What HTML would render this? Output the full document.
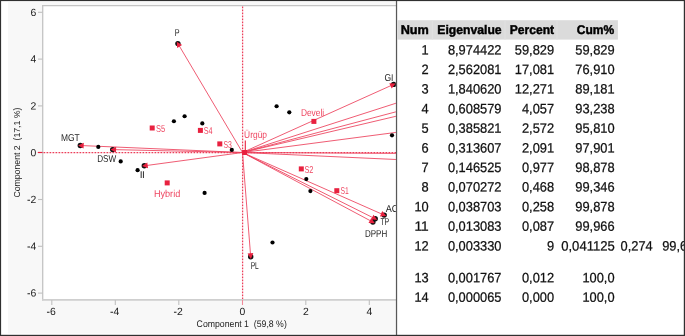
<!DOCTYPE html><html><head><meta charset="utf-8"><title>PCA</title><style>html,body{margin:0;padding:0;background:#fff;overflow:hidden}svg{display:block}text{font-family:"Liberation Sans",sans-serif}</style></head><body>
<svg width="685" height="336" viewBox="0 0 685 336">
<rect x="0" y="0" width="685" height="336" fill="#fff"/>
<rect x="8" y="2" width="388" height="331.6" fill="#f8f8f8"/>
<rect x="42.7" y="5.6" width="354" height="294.3" fill="#fff"/>
<g stroke="#c4c4c4" stroke-width="1.3" fill="none"><line x1="42.7" y1="5" x2="42.7" y2="300.6"/><line x1="42" y1="5.6" x2="396" y2="5.6"/></g>
<line x1="42" y1="299.9" x2="396" y2="299.9" stroke="#cfcfcf" stroke-width="1.8"/>
<line x1="38" y1="12.3" x2="42.7" y2="12.3" stroke="#c0c0c0" stroke-width="1.1"/>
<line x1="38" y1="59.1" x2="42.7" y2="59.1" stroke="#c0c0c0" stroke-width="1.1"/>
<line x1="38" y1="105.9" x2="42.7" y2="105.9" stroke="#c0c0c0" stroke-width="1.1"/>
<line x1="38" y1="199.5" x2="42.7" y2="199.5" stroke="#c0c0c0" stroke-width="1.1"/>
<line x1="38" y1="246.3" x2="42.7" y2="246.3" stroke="#c0c0c0" stroke-width="1.1"/>
<line x1="38" y1="293.1" x2="42.7" y2="293.1" stroke="#c0c0c0" stroke-width="1.1"/>
<line x1="51.8" y1="300" x2="51.8" y2="305" stroke="#c0c0c0" stroke-width="1.1"/>
<line x1="115.3" y1="300" x2="115.3" y2="305" stroke="#c0c0c0" stroke-width="1.1"/>
<line x1="178.8" y1="300" x2="178.8" y2="305" stroke="#c0c0c0" stroke-width="1.1"/>
<line x1="305.8" y1="300" x2="305.8" y2="305" stroke="#c0c0c0" stroke-width="1.1"/>
<line x1="369.3" y1="300" x2="369.3" y2="305" stroke="#c0c0c0" stroke-width="1.1"/>
<line x1="37.8" y1="152.5" x2="42.5" y2="152.5" stroke="#e8213f" stroke-width="1.2"/>
<line x1="242.5" y1="300" x2="242.5" y2="305" stroke="#f08a9a" stroke-width="1.1"/>
<line x1="43.5" y1="152.5" x2="396" y2="152.5" stroke="#ec3f5a" stroke-width="1.25" stroke-dasharray="1.75 1.25"/>
<line x1="242.6" y1="6.5" x2="242.6" y2="299" stroke="#ec3f5a" stroke-width="1.25" stroke-dasharray="1.75 1.25"/>
<text x="36.3" y="15.9" transform="rotate(0.03 36.3 15.9)" font-size="10.4" fill="#222" text-anchor="end">6</text>
<text x="36.3" y="62.6" transform="rotate(0.03 36.3 62.6)" font-size="10.4" fill="#222" text-anchor="end">4</text>
<text x="36.3" y="109.4" transform="rotate(0.03 36.3 109.4)" font-size="10.4" fill="#222" text-anchor="end">2</text>
<text x="36.3" y="156.2" transform="rotate(0.03 36.3 156.2)" font-size="10.4" fill="#222" text-anchor="end">0</text>
<text x="36.3" y="203.1" transform="rotate(0.03 36.3 203.1)" font-size="10.4" fill="#222" text-anchor="end">-2</text>
<text x="36.3" y="249.8" transform="rotate(0.03 36.3 249.8)" font-size="10.4" fill="#222" text-anchor="end">-4</text>
<text x="36.3" y="296.6" transform="rotate(0.03 36.3 296.6)" font-size="10.4" fill="#222" text-anchor="end">-6</text>
<text x="51.1" y="314.9" transform="rotate(0.03 51.1 314.9)" font-size="10.4" fill="#222" text-anchor="middle">-6</text>
<text x="114.6" y="314.9" transform="rotate(0.03 114.6 314.9)" font-size="10.4" fill="#222" text-anchor="middle">-4</text>
<text x="178.1" y="314.9" transform="rotate(0.03 178.1 314.9)" font-size="10.4" fill="#222" text-anchor="middle">-2</text>
<text x="242.3" y="314.9" transform="rotate(0.03 242.3 314.9)" font-size="10.4" fill="#222" text-anchor="middle">0</text>
<text x="305.8" y="314.9" transform="rotate(0.03 305.8 314.9)" font-size="10.4" fill="#222" text-anchor="middle">2</text>
<text x="369.3" y="314.9" transform="rotate(0.03 369.3 314.9)" font-size="10.4" fill="#222" text-anchor="middle">4</text>
<text x="196.6" y="326.9" transform="rotate(0.03 196.6 326.9)" font-size="9.5" fill="#222" textLength="90.2" lengthAdjust="spacingAndGlyphs" xml:space="preserve">Component 1&#160; (59,8 %)</text>
<text transform="translate(20.0,197.6) rotate(-90)" font-size="9.5" fill="#222" textLength="90" lengthAdjust="spacingAndGlyphs" xml:space="preserve">Component 2&#160; (17,1 %)</text>
<defs><clipPath id="c"><rect x="43.4" y="6.3" width="352.5" height="292.8"/></clipPath></defs>
<g clip-path="url(#c)">
<g stroke="#ec3f5a" stroke-width="0.85" fill="none">
<line x1="242.5" y1="152.5" x2="80.3" y2="145.5"/>
<line x1="242.5" y1="152.5" x2="112.7" y2="149.6"/>
<line x1="242.5" y1="152.5" x2="144.3" y2="165.8"/>
<line x1="242.5" y1="152.5" x2="177.9" y2="43.6"/>
<line x1="242.5" y1="152.5" x2="393.6" y2="84.4"/>
<line x1="242.5" y1="152.5" x2="384.2" y2="215.1"/>
<line x1="242.5" y1="152.5" x2="375.2" y2="218.8"/>
<line x1="242.5" y1="152.5" x2="372.9" y2="222.1"/>
<line x1="242.5" y1="152.5" x2="250.7" y2="256.7"/>
<line x1="242.5" y1="152.5" x2="400" y2="101.92"/>
<line x1="242.5" y1="152.5" x2="400" y2="110.74"/>
<line x1="242.5" y1="152.5" x2="400" y2="115.31"/>
<line x1="242.5" y1="152.5" x2="400" y2="131.88"/>
<line x1="242.5" y1="152.5" x2="400" y2="153.42"/>
<line x1="242.5" y1="152.5" x2="400" y2="159.68"/>
</g>
<circle cx="98.3" cy="146.9" r="2.1" fill="#000"/>
<circle cx="120.7" cy="161.4" r="2.1" fill="#000"/>
<circle cx="137.6" cy="170.2" r="2.1" fill="#000"/>
<circle cx="173.9" cy="121.25" r="2.1" fill="#000"/>
<circle cx="184.6" cy="116.25" r="2.1" fill="#000"/>
<circle cx="202.3" cy="123.4" r="2.1" fill="#000"/>
<circle cx="231.8" cy="149.9" r="2.1" fill="#000"/>
<circle cx="204.6" cy="192.9" r="2.1" fill="#000"/>
<circle cx="276.6" cy="106.25" r="2.1" fill="#000"/>
<circle cx="289.3" cy="112.3" r="2.1" fill="#000"/>
<circle cx="392" cy="135.3" r="2.1" fill="#000"/>
<circle cx="306.3" cy="179.1" r="2.1" fill="#000"/>
<circle cx="310.4" cy="191.1" r="2.1" fill="#000"/>
<circle cx="272.5" cy="242.5" r="2.1" fill="#000"/>
<circle cx="80.3" cy="145.5" r="2.7" fill="#111"/>
<polygon points="78.10,145.41 83.82,142.75 83.57,148.54" fill="#e8213f"/>
<circle cx="112.7" cy="149.6" r="2.7" fill="#111"/>
<polygon points="110.50,149.55 116.16,146.78 116.03,152.58" fill="#e8213f"/>
<circle cx="144.3" cy="165.8" r="2.7" fill="#111"/>
<polygon points="142.12,166.10 147.28,162.47 148.06,168.22" fill="#e8213f"/>
<circle cx="177.9" cy="43.6" r="2.7" fill="#111"/>
<polygon points="176.78,41.71 182.13,45.04 177.14,48.00" fill="#e8213f"/>
<circle cx="393.6" cy="84.4" r="2.7" fill="#111"/>
<polygon points="395.61,83.50 391.69,88.44 389.31,83.15" fill="#e8213f"/>
<circle cx="384.2" cy="215.1" r="2.7" fill="#111"/>
<polygon points="386.21,215.99 379.92,216.38 382.26,211.07" fill="#e8213f"/>
<circle cx="375.2" cy="218.8" r="2.7" fill="#111"/>
<polygon points="377.17,219.78 370.86,219.87 373.45,214.69" fill="#e8213f"/>
<circle cx="372.9" cy="222.1" r="2.7" fill="#111"/>
<polygon points="374.84,223.14 368.53,223.06 371.27,217.94" fill="#e8213f"/>
<circle cx="250.7" cy="256.7" r="2.7" fill="#111"/>
<polygon points="250.87,258.89 247.54,253.54 253.32,253.08" fill="#e8213f"/>
<rect x="149.7" y="125.5" width="5" height="5" fill="#e8213f"/>
<rect x="197.9" y="127.9" width="5" height="5" fill="#e8213f"/>
<rect x="217.3" y="141.4" width="5" height="5" fill="#e8213f"/>
<rect x="311.4" y="118.9" width="5" height="5" fill="#e8213f"/>
<rect x="298.8" y="166.4" width="5" height="5" fill="#e8213f"/>
<rect x="334.3" y="188.2" width="5" height="5" fill="#e8213f"/>
<rect x="164.7" y="180.4" width="5" height="5" fill="#e8213f"/>
<rect x="242.1" y="150.0" width="5" height="5" fill="#e8213f"/>
<line x1="245.3" y1="140.6" x2="245.3" y2="151" stroke="#e8213f" stroke-width="1.1"/>
</g>
<g clip-path="url(#c)">
<text x="60.95" y="141.0" transform="rotate(0.03 60.95 141.0)" font-size="10" fill="#222" textLength="18.7" lengthAdjust="spacingAndGlyphs">MGT</text>
<text x="97.2" y="161.6" transform="rotate(0.03 97.2 161.6)" font-size="10" fill="#222" textLength="19.0" lengthAdjust="spacingAndGlyphs">DSW</text>
<text x="139.8" y="178.0" transform="rotate(0.03 139.8 178)" font-size="10" fill="#222">I<tspan dx="-0.55">I</tspan></text>
<text x="174.7" y="35.9" transform="rotate(0.03 174.7 35.9)" font-size="10" fill="#222" textLength="4.8" lengthAdjust="spacingAndGlyphs">P</text>
<text x="384.4" y="81.1" transform="rotate(0.03 384.4 81.1)" font-size="10" fill="#222" textLength="9.0" lengthAdjust="spacingAndGlyphs">GI</text>
<text x="385.8" y="212.1" transform="rotate(0.03 385.8 212.1)" font-size="10" fill="#222" textLength="12.6" lengthAdjust="spacingAndGlyphs">AC</text>
<text x="380.4" y="225.2" transform="rotate(0.03 380.4 225.2)" font-size="10" fill="#222" textLength="8.8" lengthAdjust="spacingAndGlyphs">TP</text>
<text x="365.0" y="236.6" transform="rotate(0.03 365.0 236.6)" font-size="10" fill="#222" textLength="22.2" lengthAdjust="spacingAndGlyphs">DPPH</text>
<text x="250.7" y="269.4" transform="rotate(0.03 250.7 269.4)" font-size="10" fill="#222" textLength="8.1" lengthAdjust="spacingAndGlyphs">PL</text>
<text x="155.9" y="131.7" transform="rotate(0.03 155.9 131.7)" font-size="10" fill="#ee4560" textLength="9.2" lengthAdjust="spacingAndGlyphs">S5</text>
<text x="203.8" y="134.0" transform="rotate(0.03 203.8 134.0)" font-size="10" fill="#ee4560" textLength="8.8" lengthAdjust="spacingAndGlyphs">S4</text>
<text x="223.5" y="147.6" transform="rotate(0.03 223.5 147.6)" font-size="10" fill="#ee4560" textLength="8.4" lengthAdjust="spacingAndGlyphs">S3</text>
<text x="304.4" y="172.8" transform="rotate(0.03 304.4 172.8)" font-size="10" fill="#ee4560" textLength="9.0" lengthAdjust="spacingAndGlyphs">S2</text>
<text x="340.4" y="194.0" transform="rotate(0.03 340.4 194.0)" font-size="10" fill="#ee4560" textLength="8.3" lengthAdjust="spacingAndGlyphs">S1</text>
<text x="300.95" y="115.6" transform="rotate(0.03 300.95 115.6)" font-size="10" fill="#ee4560" textLength="23.2" lengthAdjust="spacingAndGlyphs">Develi</text>
<text x="153.95" y="196.7" transform="rotate(0.03 153.95 196.7)" font-size="10" fill="#ee4560" textLength="26.3" lengthAdjust="spacingAndGlyphs">Hybrid</text>
<text x="244.1" y="137.75" transform="rotate(0.03 244.1 137.75)" font-size="10" fill="#ee4560" textLength="22.9" lengthAdjust="spacingAndGlyphs">Ürgüp</text>
</g>
<rect x="396.5" y="1" width="288" height="334" fill="#fff"/>
<rect x="395.9" y="0" width="1.25" height="336" fill="#585858"/>
<rect x="397.2" y="20.2" width="220.7" height="19.4" fill="#dbdbdb"/>
<line x1="432.3" y1="20.2" x2="432.3" y2="39.6" stroke="#e1e1e1" stroke-width="1"/>
<line x1="505" y1="20.2" x2="505" y2="39.6" stroke="#e1e1e1" stroke-width="1"/>
<line x1="557" y1="20.2" x2="557" y2="39.6" stroke="#e1e1e1" stroke-width="1"/>
<text x="400.7" y="34" transform="rotate(0.03 400.7 34)" font-size="12.6" fill="#000" textLength="28.2" lengthAdjust="spacingAndGlyphs" font-weight="bold" stroke="#000" stroke-width="0.45">Num</text>
<text x="437.3" y="34" transform="rotate(0.03 437.3 34)" font-size="12.6" fill="#000" textLength="64.3" lengthAdjust="spacingAndGlyphs" font-weight="bold" stroke="#000" stroke-width="0.45">Eigenvalue</text>
<text x="509.8" y="34" transform="rotate(0.03 509.8 34)" font-size="12.6" fill="#000" textLength="44.3" lengthAdjust="spacingAndGlyphs" font-weight="bold" stroke="#000" stroke-width="0.45">Percent</text>
<text x="576.8" y="34" transform="rotate(0.03 576.8 34)" font-size="12.6" fill="#000" textLength="37.5" lengthAdjust="spacingAndGlyphs" font-weight="bold" stroke="#000" stroke-width="0.45">Cum%</text>
<text x="421.56" y="54.4" transform="rotate(0.03 421.56 54.4)" font-size="13.6" fill="#111" stroke="#111" stroke-width="0.25" textLength="7.14" lengthAdjust="spacingAndGlyphs">1</text>
<text x="447.92" y="54.4" transform="rotate(0.03 447.92 54.4)" font-size="13.6" fill="#111" stroke="#111" stroke-width="0.25" textLength="53.58" lengthAdjust="spacingAndGlyphs">8,974422</text>
<text x="514.80" y="54.4" transform="rotate(0.03 514.80 54.4)" font-size="13.6" fill="#111" stroke="#111" stroke-width="0.25" textLength="39.3" lengthAdjust="spacingAndGlyphs">59,829</text>
<text x="575.30" y="54.4" transform="rotate(0.03 575.30 54.4)" font-size="13.6" fill="#111" stroke="#111" stroke-width="0.25" textLength="39.3" lengthAdjust="spacingAndGlyphs">59,829</text>
<text x="421.56" y="74.0" transform="rotate(0.03 421.56 74.0)" font-size="13.6" fill="#111" stroke="#111" stroke-width="0.25" textLength="7.14" lengthAdjust="spacingAndGlyphs">2</text>
<text x="447.92" y="74.0" transform="rotate(0.03 447.92 74.0)" font-size="13.6" fill="#111" stroke="#111" stroke-width="0.25" textLength="53.58" lengthAdjust="spacingAndGlyphs">2,562081</text>
<text x="514.80" y="74.0" transform="rotate(0.03 514.80 74.0)" font-size="13.6" fill="#111" stroke="#111" stroke-width="0.25" textLength="39.3" lengthAdjust="spacingAndGlyphs">17,081</text>
<text x="575.30" y="74.0" transform="rotate(0.03 575.30 74.0)" font-size="13.6" fill="#111" stroke="#111" stroke-width="0.25" textLength="39.3" lengthAdjust="spacingAndGlyphs">76,910</text>
<text x="421.56" y="93.6" transform="rotate(0.03 421.56 93.6)" font-size="13.6" fill="#111" stroke="#111" stroke-width="0.25" textLength="7.14" lengthAdjust="spacingAndGlyphs">3</text>
<text x="447.92" y="93.6" transform="rotate(0.03 447.92 93.6)" font-size="13.6" fill="#111" stroke="#111" stroke-width="0.25" textLength="53.58" lengthAdjust="spacingAndGlyphs">1,840620</text>
<text x="514.80" y="93.6" transform="rotate(0.03 514.80 93.6)" font-size="13.6" fill="#111" stroke="#111" stroke-width="0.25" textLength="39.3" lengthAdjust="spacingAndGlyphs">12,271</text>
<text x="575.30" y="93.6" transform="rotate(0.03 575.30 93.6)" font-size="13.6" fill="#111" stroke="#111" stroke-width="0.25" textLength="39.3" lengthAdjust="spacingAndGlyphs">89,181</text>
<text x="421.56" y="113.2" transform="rotate(0.03 421.56 113.2)" font-size="13.6" fill="#111" stroke="#111" stroke-width="0.25" textLength="7.14" lengthAdjust="spacingAndGlyphs">4</text>
<text x="447.92" y="113.2" transform="rotate(0.03 447.92 113.2)" font-size="13.6" fill="#111" stroke="#111" stroke-width="0.25" textLength="53.58" lengthAdjust="spacingAndGlyphs">0,608579</text>
<text x="521.95" y="113.2" transform="rotate(0.03 521.95 113.2)" font-size="13.6" fill="#111" stroke="#111" stroke-width="0.25" textLength="32.15" lengthAdjust="spacingAndGlyphs">4,057</text>
<text x="575.30" y="113.2" transform="rotate(0.03 575.30 113.2)" font-size="13.6" fill="#111" stroke="#111" stroke-width="0.25" textLength="39.3" lengthAdjust="spacingAndGlyphs">93,238</text>
<text x="421.56" y="132.8" transform="rotate(0.03 421.56 132.8)" font-size="13.6" fill="#111" stroke="#111" stroke-width="0.25" textLength="7.14" lengthAdjust="spacingAndGlyphs">5</text>
<text x="447.92" y="132.8" transform="rotate(0.03 447.92 132.8)" font-size="13.6" fill="#111" stroke="#111" stroke-width="0.25" textLength="53.58" lengthAdjust="spacingAndGlyphs">0,385821</text>
<text x="521.95" y="132.8" transform="rotate(0.03 521.95 132.8)" font-size="13.6" fill="#111" stroke="#111" stroke-width="0.25" textLength="32.15" lengthAdjust="spacingAndGlyphs">2,572</text>
<text x="575.30" y="132.8" transform="rotate(0.03 575.30 132.8)" font-size="13.6" fill="#111" stroke="#111" stroke-width="0.25" textLength="39.3" lengthAdjust="spacingAndGlyphs">95,810</text>
<text x="421.56" y="152.4" transform="rotate(0.03 421.56 152.4)" font-size="13.6" fill="#111" stroke="#111" stroke-width="0.25" textLength="7.14" lengthAdjust="spacingAndGlyphs">6</text>
<text x="447.92" y="152.4" transform="rotate(0.03 447.92 152.4)" font-size="13.6" fill="#111" stroke="#111" stroke-width="0.25" textLength="53.58" lengthAdjust="spacingAndGlyphs">0,313607</text>
<text x="521.95" y="152.4" transform="rotate(0.03 521.95 152.4)" font-size="13.6" fill="#111" stroke="#111" stroke-width="0.25" textLength="32.15" lengthAdjust="spacingAndGlyphs">2,091</text>
<text x="575.30" y="152.4" transform="rotate(0.03 575.30 152.4)" font-size="13.6" fill="#111" stroke="#111" stroke-width="0.25" textLength="39.3" lengthAdjust="spacingAndGlyphs">97,901</text>
<text x="421.56" y="172.0" transform="rotate(0.03 421.56 172.0)" font-size="13.6" fill="#111" stroke="#111" stroke-width="0.25" textLength="7.14" lengthAdjust="spacingAndGlyphs">7</text>
<text x="447.92" y="172.0" transform="rotate(0.03 447.92 172.0)" font-size="13.6" fill="#111" stroke="#111" stroke-width="0.25" textLength="53.58" lengthAdjust="spacingAndGlyphs">0,146525</text>
<text x="521.95" y="172.0" transform="rotate(0.03 521.95 172.0)" font-size="13.6" fill="#111" stroke="#111" stroke-width="0.25" textLength="32.15" lengthAdjust="spacingAndGlyphs">0,977</text>
<text x="575.30" y="172.0" transform="rotate(0.03 575.30 172.0)" font-size="13.6" fill="#111" stroke="#111" stroke-width="0.25" textLength="39.3" lengthAdjust="spacingAndGlyphs">98,878</text>
<text x="421.56" y="191.6" transform="rotate(0.03 421.56 191.6)" font-size="13.6" fill="#111" stroke="#111" stroke-width="0.25" textLength="7.14" lengthAdjust="spacingAndGlyphs">8</text>
<text x="447.92" y="191.6" transform="rotate(0.03 447.92 191.6)" font-size="13.6" fill="#111" stroke="#111" stroke-width="0.25" textLength="53.58" lengthAdjust="spacingAndGlyphs">0,070272</text>
<text x="521.95" y="191.6" transform="rotate(0.03 521.95 191.6)" font-size="13.6" fill="#111" stroke="#111" stroke-width="0.25" textLength="32.15" lengthAdjust="spacingAndGlyphs">0,468</text>
<text x="575.30" y="191.6" transform="rotate(0.03 575.30 191.6)" font-size="13.6" fill="#111" stroke="#111" stroke-width="0.25" textLength="39.3" lengthAdjust="spacingAndGlyphs">99,346</text>
<text x="414.41" y="211.2" transform="rotate(0.03 414.41 211.2)" font-size="13.6" fill="#111" stroke="#111" stroke-width="0.25" textLength="14.29" lengthAdjust="spacingAndGlyphs">10</text>
<text x="447.92" y="211.2" transform="rotate(0.03 447.92 211.2)" font-size="13.6" fill="#111" stroke="#111" stroke-width="0.25" textLength="53.58" lengthAdjust="spacingAndGlyphs">0,038703</text>
<text x="521.95" y="211.2" transform="rotate(0.03 521.95 211.2)" font-size="13.6" fill="#111" stroke="#111" stroke-width="0.25" textLength="32.15" lengthAdjust="spacingAndGlyphs">0,258</text>
<text x="575.30" y="211.2" transform="rotate(0.03 575.30 211.2)" font-size="13.6" fill="#111" stroke="#111" stroke-width="0.25" textLength="39.3" lengthAdjust="spacingAndGlyphs">99,878</text>
<text x="414.41" y="230.8" transform="rotate(0.03 414.41 230.8)" font-size="13.6" fill="#111" stroke="#111" stroke-width="0.25" textLength="14.29" lengthAdjust="spacingAndGlyphs">11</text>
<text x="447.92" y="230.8" transform="rotate(0.03 447.92 230.8)" font-size="13.6" fill="#111" stroke="#111" stroke-width="0.25" textLength="53.58" lengthAdjust="spacingAndGlyphs">0,013083</text>
<text x="521.95" y="230.8" transform="rotate(0.03 521.95 230.8)" font-size="13.6" fill="#111" stroke="#111" stroke-width="0.25" textLength="32.15" lengthAdjust="spacingAndGlyphs">0,087</text>
<text x="575.30" y="230.8" transform="rotate(0.03 575.30 230.8)" font-size="13.6" fill="#111" stroke="#111" stroke-width="0.25" textLength="39.3" lengthAdjust="spacingAndGlyphs">99,966</text>
<text x="414.41" y="250.4" transform="rotate(0.03 414.41 250.4)" font-size="13.6" fill="#111" stroke="#111" stroke-width="0.25" textLength="14.29" lengthAdjust="spacingAndGlyphs">12</text>
<text x="447.92" y="250.4" transform="rotate(0.03 447.92 250.4)" font-size="13.6" fill="#111" stroke="#111" stroke-width="0.25" textLength="53.58" lengthAdjust="spacingAndGlyphs">0,003330</text>
<text x="546.96" y="250.4" transform="rotate(0.03 546.96 250.4)" font-size="13.6" fill="#111" stroke="#111" stroke-width="0.25" textLength="7.14" lengthAdjust="spacingAndGlyphs">9</text>
<text x="561.22" y="250.4" transform="rotate(0.03 561.22 250.4)" font-size="13.6" fill="#111" stroke="#111" stroke-width="0.25" textLength="53.58" lengthAdjust="spacingAndGlyphs">0,041125</text>
<text x="620.55" y="250.4" transform="rotate(0.03 620.55 250.4)" font-size="13.6" fill="#111" stroke="#111" stroke-width="0.25" textLength="32.15" lengthAdjust="spacingAndGlyphs">0,274</text>
<text x="662.20" y="250.4" transform="rotate(0.03 662.20 250.4)" font-size="13.6" fill="#111" stroke="#111" stroke-width="0.25" textLength="39.3" lengthAdjust="spacingAndGlyphs">99,620</text>
<text x="414.41" y="282.3" transform="rotate(0.03 414.41 282.3)" font-size="13.6" fill="#111" stroke="#111" stroke-width="0.25" textLength="14.29" lengthAdjust="spacingAndGlyphs">13</text>
<text x="447.92" y="282.3" transform="rotate(0.03 447.92 282.3)" font-size="13.6" fill="#111" stroke="#111" stroke-width="0.25" textLength="53.58" lengthAdjust="spacingAndGlyphs">0,001767</text>
<text x="521.95" y="282.3" transform="rotate(0.03 521.95 282.3)" font-size="13.6" fill="#111" stroke="#111" stroke-width="0.25" textLength="32.15" lengthAdjust="spacingAndGlyphs">0,012</text>
<text x="582.45" y="282.3" transform="rotate(0.03 582.45 282.3)" font-size="13.6" fill="#111" stroke="#111" stroke-width="0.25" textLength="32.15" lengthAdjust="spacingAndGlyphs">100,0</text>
<text x="414.41" y="301.7" transform="rotate(0.03 414.41 301.7)" font-size="13.6" fill="#111" stroke="#111" stroke-width="0.25" textLength="14.29" lengthAdjust="spacingAndGlyphs">14</text>
<text x="447.92" y="301.7" transform="rotate(0.03 447.92 301.7)" font-size="13.6" fill="#111" stroke="#111" stroke-width="0.25" textLength="53.58" lengthAdjust="spacingAndGlyphs">0,000065</text>
<text x="521.95" y="301.7" transform="rotate(0.03 521.95 301.7)" font-size="13.6" fill="#111" stroke="#111" stroke-width="0.25" textLength="32.15" lengthAdjust="spacingAndGlyphs">0,000</text>
<text x="582.45" y="301.7" transform="rotate(0.03 582.45 301.7)" font-size="13.6" fill="#111" stroke="#111" stroke-width="0.25" textLength="32.15" lengthAdjust="spacingAndGlyphs">100,0</text>
<rect x="0" y="0" width="685" height="1.1" fill="#303030"/>
<rect x="0" y="0" width="1.1" height="336" fill="#303030"/>
<rect x="683.8" y="0" width="1.2" height="336" fill="#303030"/>
<rect x="0" y="334.8" width="685" height="1.2" fill="#303030"/>
</svg></body></html>
